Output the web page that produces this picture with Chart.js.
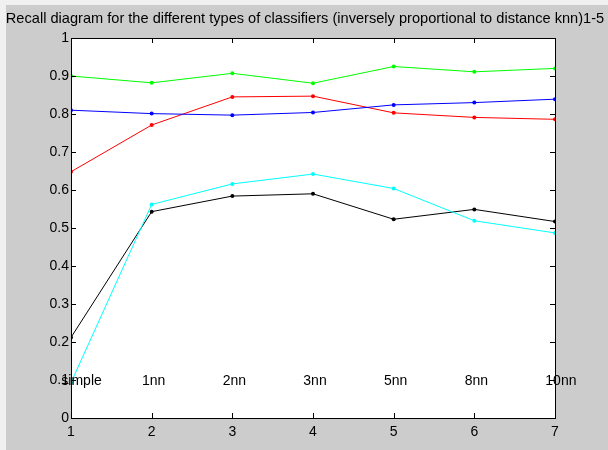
<!DOCTYPE html>
<html>
<head>
<meta charset="utf-8">
<script src="https://cdn.jsdelivr.net/npm/chart.js@4/dist/chart.umd.min.js"></script>
<style>
  html, body { margin: 0; padding: 0; background: #f0f0f0; width: 608px; height: 450px; overflow: hidden; }
  #wrap { position: absolute; left: 0; top: 0; width: 608px; height: 450px; }
</style>
</head>
<body>
<div id="wrap"><canvas id="c" width="608" height="450"></canvas></div>
<script>
const xValues = [1, 2, 3, 4, 5, 6, 7];
const classifierLabels = ["simple", "1nn", "2nn", "3nn", "5nn", "8nn", "10nn"];
const greenSeries = [0.900, 0.882, 0.907, 0.881, 0.925, 0.911, 0.920];
const blueSeries  = [0.810, 0.801, 0.797, 0.804, 0.824, 0.830, 0.839];
const redSeries   = [0.648, 0.771, 0.845, 0.847, 0.803, 0.791, 0.786];
const cyanSeries  = [0.093, 0.562, 0.616, 0.642, 0.604, 0.519, 0.487];
const blackSeries = [0.212, 0.543, 0.584, 0.590, 0.523, 0.549, 0.517];
const yTicks = [0, 0.1, 0.2, 0.3, 0.4, 0.5, 0.6, 0.7, 0.8, 0.9, 1];
const titleText = "Recall diagram for the different types of classifiers (inversely proportional to distance knn)1-5";
const labelY = 0.1;

const FONT = '"Liberation Sans", Arial, sans-serif';

function pts(arr) { return xValues.map((x, i) => ({ x: x, y: arr[i] })); }
function ds(arr, color) {
  return {
    data: pts(arr), borderColor: color, backgroundColor: color,
    borderWidth: 1, pointRadius: 2, pointHoverRadius: 2, pointBorderWidth: 0,
    tension: 0
  };
}

const bgPlugin = {
  id: 'bg',
  beforeDraw(chart) {
    const ctx = chart.ctx;
    ctx.save();
    ctx.fillStyle = '#f0f0f0';
    ctx.fillRect(0, 0, chart.width, chart.height);
    ctx.fillStyle = '#cccccc';
    ctx.fillRect(6, 5, chart.width - 6, chart.height - 5);
    const a = chart.chartArea;
    ctx.fillStyle = '#ffffff';
    ctx.fillRect(a.left, a.top, a.right - a.left, a.bottom - a.top);
    ctx.fillStyle = '#000';
    ctx.font = '14.6px ' + FONT;
    ctx.textAlign = 'center';
    ctx.textBaseline = 'middle';
    ctx.fillText(titleText, 305, 19);
    ctx.restore();
  },
  afterDatasetsDraw(chart) {
    const ctx = chart.ctx;
    const a = chart.chartArea;
    const xs = chart.scales.x, ys = chart.scales.y;
    ctx.save();
    ctx.strokeStyle = '#000';
    ctx.lineWidth = 1;
    ctx.strokeRect(Math.round(a.left) + 0.5, Math.round(a.top) + 0.5, Math.round(a.right - a.left), Math.round(a.bottom - a.top));
    ctx.beginPath();
    xValues.forEach(v => {
      const px = Math.round(xs.getPixelForValue(v)) + 0.5;
      ctx.moveTo(px, a.bottom); ctx.lineTo(px, a.bottom - 5);
      ctx.moveTo(px, a.top); ctx.lineTo(px, a.top + 5);
    });
    yTicks.forEach(v => {
      const py = Math.round(ys.getPixelForValue(v)) + 0.5;
      ctx.moveTo(a.left, py); ctx.lineTo(a.left + 5, py);
      ctx.moveTo(a.right, py); ctx.lineTo(a.right - 5, py);
    });
    ctx.stroke();
    ctx.fillStyle = '#000';
    ctx.font = '14px ' + FONT;
    ctx.textAlign = 'left';
    ctx.textBaseline = 'middle';
    classifierLabels.forEach((t, i) => {
      const px = xs.getPixelForValue(xValues[i] - 0.12);
      const py = ys.getPixelForValue(labelY);
      ctx.fillText(t, px, py + 1);
    });
    ctx.restore();
  }
};

new Chart(document.getElementById('c'), {
  type: 'line',
  data: {
    datasets: [
      ds(greenSeries, '#00ff00'),
      ds(blueSeries, '#0000ff'),
      ds(redSeries, '#ff0000'),
      ds(cyanSeries, '#00ffff'),
      ds(blackSeries, '#000000')
    ]
  },
  options: {
    responsive: false,
    animation: false,
    events: [],
    layout: { padding: { left: 0, right: 53, top: 38, bottom: 0 } },
    plugins: { legend: { display: false }, title: { display: false }, tooltip: { enabled: false } },
    scales: {
      x: {
        type: 'linear', min: 1, max: 7,
        afterBuildTicks(s) { s.ticks = xValues.map(v => ({ value: v })); },
        afterFit(s) { s.height = 32; },
        grid: { display: false, drawTicks: false },
        border: { display: false },
        ticks: { color: '#000', padding: 6, font: { family: FONT, size: 14 }, maxRotation: 0, autoSkip: false }
      },
      y: {
        type: 'linear', min: 0, max: 1,
        afterBuildTicks(s) { s.ticks = yTicks.map(v => ({ value: v })); },
        afterFit(s) { s.width = 71; },
        grid: { display: false, drawTicks: false },
        border: { display: false },
        ticks: { color: '#000', padding: 2, font: { family: FONT, size: 14 }, autoSkip: false,
          callback: v => String(Math.round(v * 10) / 10) }
      }
    }
  },
  plugins: [bgPlugin]
});
</script>
</body>
</html>
